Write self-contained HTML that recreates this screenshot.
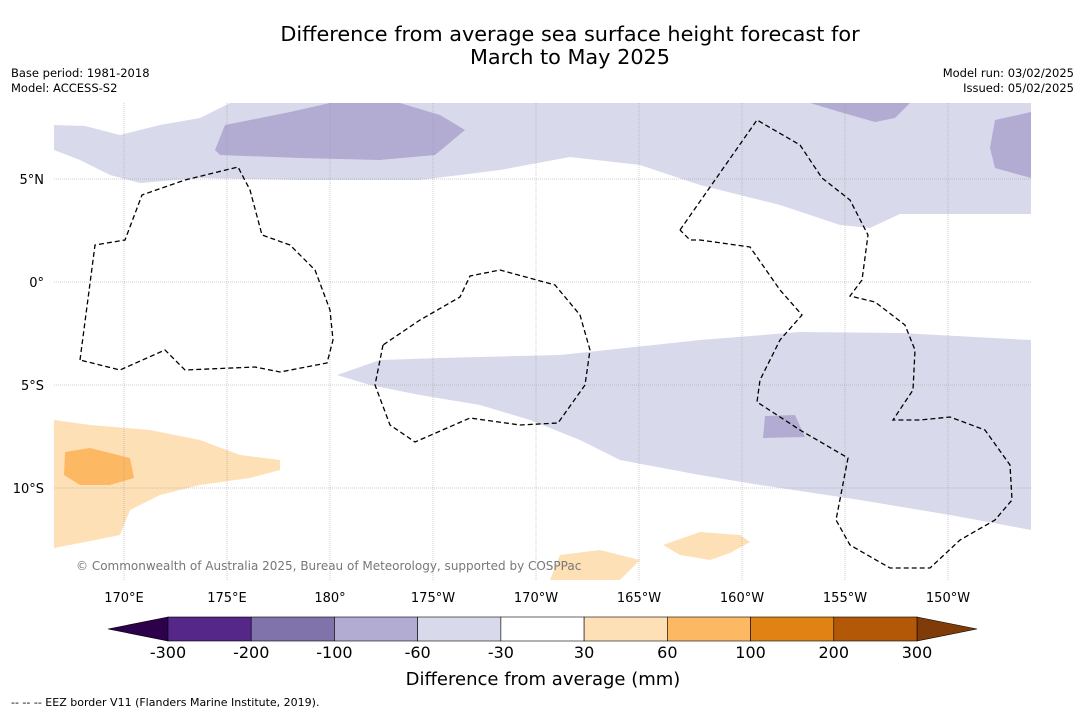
<!DOCTYPE html>
<html><head><meta charset="utf-8">
<style>
body{margin:0;background:#fff;font-family:"Liberation Sans","DejaVu Sans",sans-serif;}
#wrap{position:relative;width:1085px;height:713px;overflow:hidden;background:#fff;}
</style></head>
<body>
<div id="wrap">
<svg id="svg" width="1085" height="713" xmlns="http://www.w3.org/2000/svg" font-family="DejaVu Sans, Liberation Sans, sans-serif">
<text x="570" y="41" text-anchor="middle" font-size="20.8" fill="#000">Difference from average sea surface height forecast for</text>
<text x="570" y="64" text-anchor="middle" font-size="20.8" fill="#000">March to May 2025</text>
<text x="11" y="77" font-size="11.5">Base period: 1981-2018</text>
<text x="11" y="92" font-size="11.5">Model: ACCESS-S2</text>
<text x="1074" y="77" font-size="11.5" text-anchor="end">Model run: 03/02/2025</text>
<text x="1074" y="92" font-size="11.5" text-anchor="end">Issued: 05/02/2025</text>
<g id="map"></g>
<g id="cbar"></g>
<text x="543" y="685" text-anchor="middle" font-size="18">Difference from average (mm)</text>
<text x="11" y="706" font-size="11">--  --  -- EEZ border V11 (Flanders Marine Institute, 2019).</text>
</svg>
</div>
<script>
const levels = ["-300","-200","-100","-60","-30","30","60","100","200","300"];
const binColors = ["#542788","#8073ac","#b2abd2","#d8daeb","#ffffff","#fee0b6","#fdb863","#e08214","#b35806"];
const lowColor = "#2d004b";
const highColor = "#7f3b08";
const lonTicks = [170,175,180,-175,-170,-165,-160,-155,-150];
const lonLabels = ["170°E","175°E","180°","175°W","170°W","165°W","160°W","155°W","150°W"];
const latTicks = [5,0,-5,-10];
const latLabels = ["5°N","0°","5°S","10°S"];

const NS="http://www.w3.org/2000/svg";
const svg=document.getElementById('svg');
const map=document.getElementById('map');
const cbar=document.getElementById('cbar');
function el(t,a,p){const e=document.createElementNS(NS,t);for(const k in a)e.setAttribute(k,a[k]);(p||svg).appendChild(e);return e;}
const X0=54,X1=1031,Y0=103,Y1=580;
function xLon(l){let v=l<0?l+360:l;return 124+(v-170)*20.6;}
function yLat(l){return 282-l*20.6;}
const clip=el('clipPath',{id:'mc'},svg);el('rect',{x:X0,y:Y0,width:X1-X0,height:Y1-Y0},clip);
const g=el('g',{'clip-path':'url(#mc)'},map);


function poly(pts,fill,name){const p=el('polygon',{points:pts.map(a=>a.join(',')).join(' '),fill:fill},g);

}
poly([[54,125],[85,126],[120,135],[160,125],[200,118],[230,103],[1031,103],[1031,214],[900,214],[870,228],[840,225],[780,205],[700,185],[640,165],[570,157],[500,170],[420,180],[300,180],[200,178],[140,183],[110,175],[80,160],[54,150]],"#d8daeb","north-anomaly-band");
poly([[215,150],[225,125],[290,112],[330,103],[400,103],[440,115],[465,130],[435,155],[380,160],[300,158],[220,155]],"#b2abd2","north-strong-anomaly");
poly([[810,103],[910,103],[895,118],[875,122],[840,112]],"#b2abd2","northeast-strong-anomaly");
poly([[995,120],[1031,112],[1031,178],[995,168],[990,148]],"#b2abd2","east-strong-anomaly");
poly([[337,375],[380,360],[440,358],[560,355],[700,340],[800,332],[900,333],[1031,340],[1031,530],[950,515],[860,500],[760,485],[700,475],[620,460],[580,440],[530,420],[480,405],[420,395],[370,385]],"#d8daeb","south-anomaly-band");
poly([[765,416],[795,415],[805,437],[763,438]],"#b2abd2","south-strong-anomaly");
poly([[54,420],[90,425],[150,430],[200,440],[240,455],[280,460],[280,470],[250,478],[200,485],[160,495],[130,510],[120,535],[95,540],[54,548]],"#fee0b6","southwest-positive-anomaly");
poly([[65,452],[90,448],[130,458],[134,478],[110,485],[80,485],[64,475]],"#fdb863","southwest-strong-positive");
poly([[550,580],[560,555],[600,550],[640,560],[620,580]],"#fee0b6","south-positive-patch");
poly([[663,545],[700,532],[740,535],[750,542],[730,553],[710,560],[680,555]],"#fee0b6","southeast-positive-patch");
lonTicks.forEach((l,i)=>{const x=xLon(l);
const ln=el('line',{x1:x,x2:x,y1:Y0,y2:Y1,stroke:'#999','stroke-width':0.5,'stroke-dasharray':'1,1'},g);


const t=el('text',{x:x,y:602,'text-anchor':'middle','font-size':13},map);t.textContent=lonLabels[i];

});
latTicks.forEach((l,i)=>{const y=yLat(l);
const ln=el('line',{x1:X0,x2:X1,y1:y,y2:y,stroke:'#999','stroke-width':0.5,'stroke-dasharray':'1,1'},g);


const t=el('text',{x:44,y:y+5,'text-anchor':'end','font-size':13},map);t.textContent=latLabels[i];

});
function dashed(pts,name){const p=el('polyline',{points:pts.map(a=>a.join(',')).join(' '),fill:'none',stroke:'#000','stroke-width':1.3,'stroke-dasharray':'5,3'},g);

}
dashed([[80,360],[95,245],[125,240],[142,195],[185,180],[238,167],[250,190],[262,235],[290,245],[315,270],[330,310],[333,340],[327,363],[280,372],[255,367],[185,370],[165,350],[120,370],[80,360]],"eez-border-west");
dashed([[383,345],[375,385],[390,425],[415,442],[470,418],[520,425],[558,423],[585,385],[590,350],[580,315],[555,285],[500,270],[470,276],[460,297],[420,320],[383,345]],"eez-border-central");
dashed([[680,230],[757,120],[800,145],[822,178],[850,200],[868,235],[862,280],[850,296],[875,302],[905,325],[915,350],[913,390],[893,420],[920,420],[950,417],[985,430],[1010,465],[1012,500],[995,520],[960,540],[930,568],[890,568],[850,545],[836,520],[848,458],[800,430],[757,402],[760,380],[780,340],[802,315],[780,290],[750,247],[700,240],[690,240],[680,230]],"eez-border-east");
const cr=el('text',{x:76,y:570,'font-size':12,fill:'#777'},g);cr.textContent="© Commonwealth of Australia 2025, Bureau of Meteorology, supported by COSPPac";


const CB0=168,CB1=917,CY=617,CH=24;
const w=(CB1-CB0)/binColors.length;
function cx(i){return CB0+i*w;}
const lt=el('polygon',{points:`${CB0},${CY} ${108},${CY+CH/2} ${CB0},${CY+CH}`,fill:lowColor,stroke:'#000','stroke-width':0.6},cbar);


const rt=el('polygon',{points:`${CB1},${CY} ${977},${CY+CH/2} ${CB1},${CY+CH}`,fill:highColor,stroke:'#000','stroke-width':0.6},cbar);


binColors.forEach((c,i)=>{const r=el('rect',{x:cx(i),y:CY,width:w,height:CH,fill:c,stroke:'#000','stroke-width':0.6},cbar);

});
levels.forEach((l,i)=>{const t=el('text',{x:cx(i),y:658,'text-anchor':'middle','font-size':16},cbar);t.textContent=l;

});
</script>
</body></html>
